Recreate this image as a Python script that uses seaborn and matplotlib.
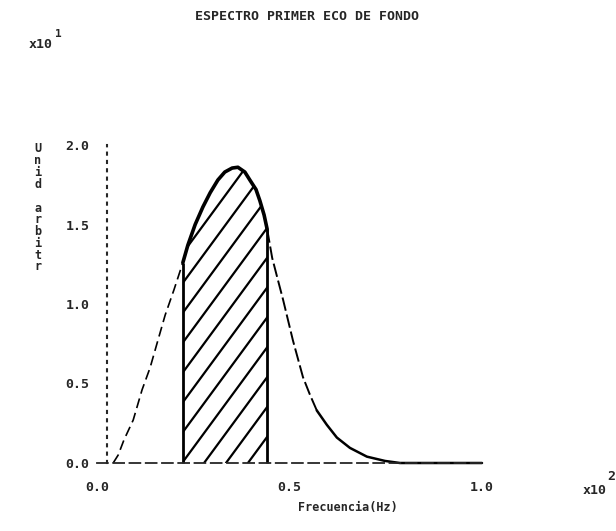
import numpy as np
import pandas as pd
import matplotlib
matplotlib.use("Agg")
import matplotlib.pyplot as plt
import seaborn as sns

# Curve (x in units of 10^2 Hz, y in units of 10^1)
freq = [0.042, 0.055, 0.070, 0.094, 0.117, 0.138, 0.158, 0.177, 0.200, 0.223,
        0.236, 0.255, 0.275, 0.294, 0.314, 0.332, 0.351, 0.366, 0.384, 0.397,
        0.413, 0.423, 0.434, 0.442, 0.455, 0.470, 0.483, 0.509, 0.535, 0.553,
        0.571, 0.597, 0.623, 0.657, 0.701, 0.748, 0.787, 1.000]
amp = [0.00, 0.05, 0.145, 0.27, 0.46, 0.60, 0.77, 0.93, 1.09, 1.26,
       1.37, 1.50, 1.61, 1.70, 1.78, 1.83, 1.855, 1.86, 1.83, 1.78,
       1.72, 1.65, 1.56, 1.47, 1.29, 1.15, 1.03, 0.77, 0.54, 0.43,
       0.33, 0.24, 0.16, 0.095, 0.04, 0.013, 0.00, 0.00]
band = (0.223, 0.442)
x_ticks = [0.0, 0.5, 1.0]
x_ticklabels = ["0.0", "0.5", "1.0"]
y_ticks = [0.0, 0.5, 1.0, 1.5, 2.0]
y_ticklabels = ["0.0", "0.5", "1.0", "1.5", "2.0"]

df = pd.DataFrame({"freq": freq, "amp": amp})

sns.set_style("white")
plt.rcParams["font.family"] = ["DejaVu Sans Mono", "DejaVu Sans"]
plt.rcParams["font.weight"] = "bold"

W, H = 616, 531
fig = plt.figure(figsize=(W / 100, H / 100), dpi=100)

# axes placed so that x 0..1 -> px 97..482 and y 0..2 -> px 463..145
xlim = (-0.05, 1.05)
ylim = (-0.05, 2.1)
px0, px1 = 97 + xlim[0] * 385, 97 + xlim[1] * 385
py0, py1 = 463 - ylim[0] * 159, 463 - ylim[1] * 159
ax = fig.add_axes([px0 / W, 1 - py0 / H, (px1 - px0) / W, (py0 - py1) / H])
ax.set_xlim(xlim)
ax.set_ylim(ylim)

left = df[df.freq <= band[0]]
mid = df[(df.freq >= band[0]) & (df.freq <= band[1])]
right_a = df[(df.freq >= band[1]) & (df.freq <= 0.571)]
right_b = df[df.freq >= 0.571]

sns.lineplot(data=left, x="freq", y="amp", ax=ax, color="black", lw=1.2,
             linestyle=(0, (6, 3)), sort=False)
sns.lineplot(data=mid, x="freq", y="amp", ax=ax, color="black", lw=2.6, sort=False)
sns.lineplot(data=right_a, x="freq", y="amp", ax=ax, color="black", lw=1.4,
             linestyle=(0, (7, 2)), sort=False)
sns.lineplot(data=right_b, x="freq", y="amp", ax=ax, color="black", lw=1.8, sort=False)

# hatched band under the curve: steep diagonal lines clipped to the area
area = ax.fill_between(mid.freq, 0, mid.amp, facecolor="none", linewidth=0)
slope = 1.36 * 385 / 159          # pixel slope ~1.36 converted to data units
for x0 in np.arange(band[0] - 0.8, band[1] + 0.1, 0.057):
    hl, = ax.plot([x0, x0 + 2.2 / slope], [0, 2.2], color="black", lw=1.6)
    hl.set_clip_path(area.get_paths()[0], ax.transData)
for xb in band:
    ax.vlines(xb, 0, np.interp(xb, freq, amp), color="black", lw=2.0)

# axis styling: dashed baseline, dotted left axis
for s in ["top", "right"]:
    ax.spines[s].set_visible(False)
ax.spines["bottom"].set_position(("data", 0))
ax.spines["bottom"].set_bounds(0, 1.0)
ax.spines["bottom"].set_linestyle((0, (6, 3)))
ax.spines["bottom"].set_linewidth(1.3)
ax.spines["left"].set_position(("data", 0.026))
ax.spines["left"].set_bounds(0, 2.0)
ax.spines["left"].set_linestyle((0, (1, 3)))
ax.spines["left"].set_linewidth(1.5)

ax.set_xticks(x_ticks)
ax.set_xticklabels(x_ticklabels)
ax.set_yticks(y_ticks)
ax.set_yticklabels(y_ticklabels)
ax.set_yticks(np.arange(0, 2.01, 0.1), minor=True)
ax.tick_params(axis="x", direction="in", length=5, width=1.5, pad=13, labelsize=9.5)
ax.tick_params(axis="y", which="major", direction="inout", length=9, width=2.2,
               pad=8, labelsize=9.5)
ax.tick_params(axis="y", which="minor", direction="inout", length=6, width=2.0)
ax.set_xlabel("")
ax.set_ylabel("")
ax.grid(False)

# texts
def ftext(px, py, s, **kw):
    fig.text(px / W, 1 - py / H, s, **kw)

ftext(307, 17, "ESPECTRO PRIMER ECO DE FONDO", ha="center", va="center", fontsize=9.5)
ftext(348, 507, "Frecuencia(Hz)", ha="center", va="center", fontsize=8.5)
ftext(41, 45, "x10", ha="center", va="center", fontsize=9.5)
ftext(58, 34, "1", ha="center", va="center", fontsize=8)
ftext(595, 490, "x10", ha="center", va="center", fontsize=9.5)
ftext(611, 477, "2", ha="center", va="center", fontsize=9.5)
ftext(38, 208, "\n".join("Unid arbitr"), ha="center", va="center",
      fontsize=8.5, linespacing=0.88)

fig.savefig("out.png", dpi=100)
